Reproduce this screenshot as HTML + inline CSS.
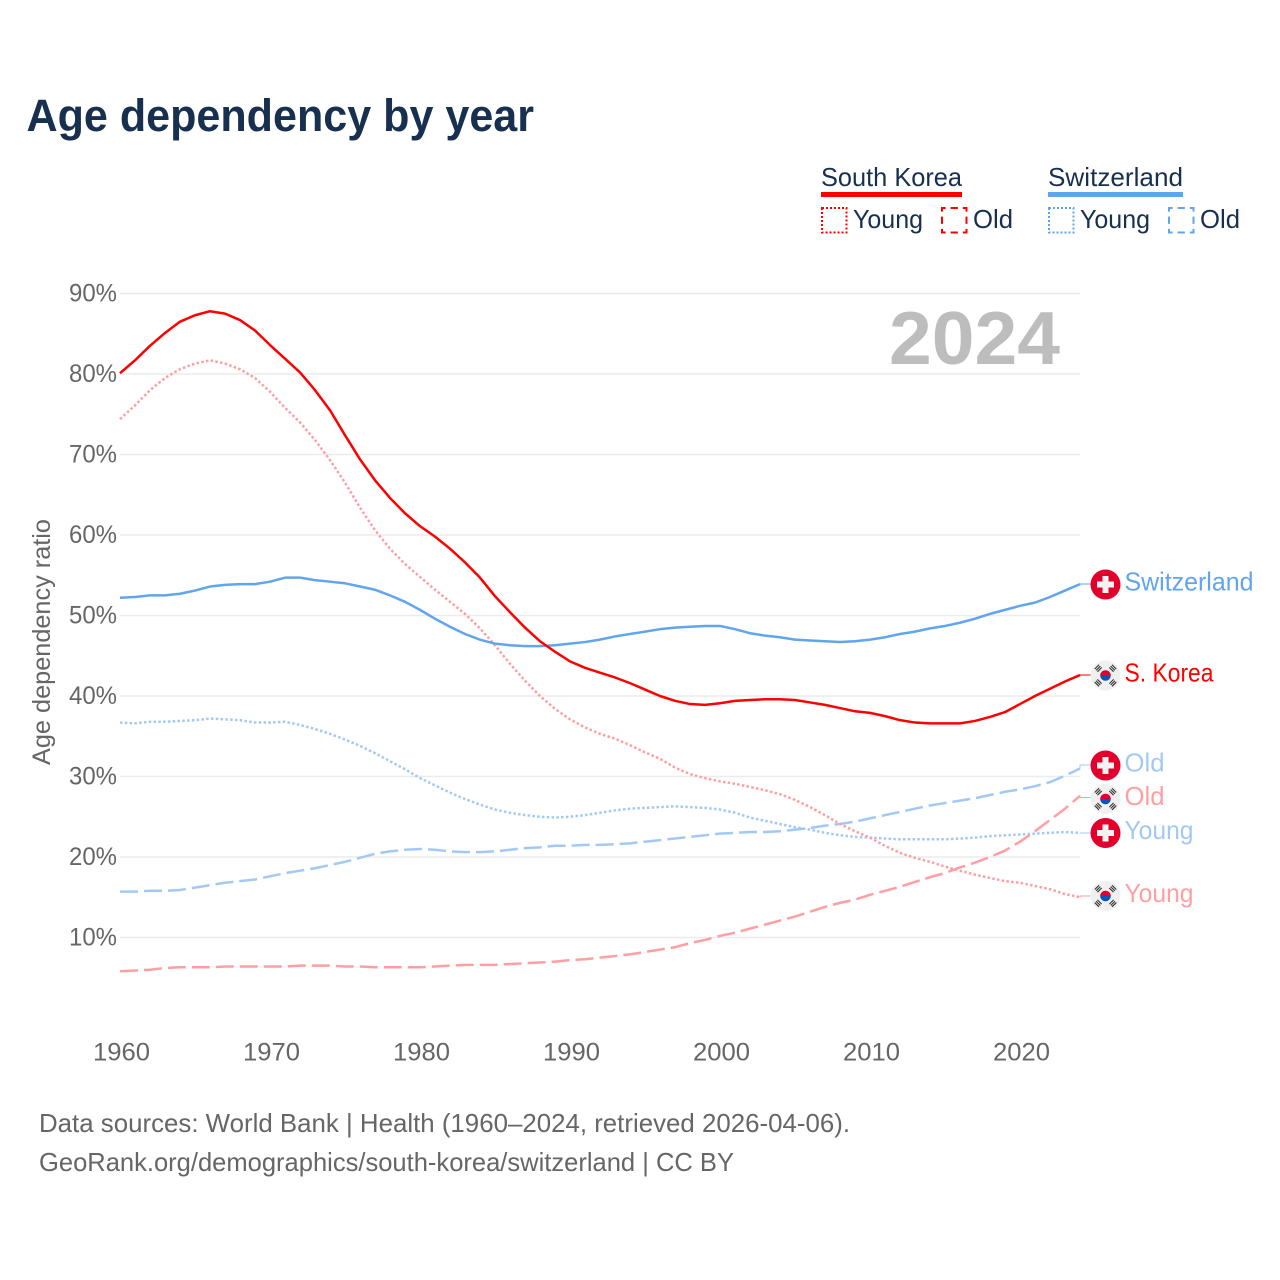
<!DOCTYPE html>
<html lang="en">
<head>
<meta charset="utf-8">
<title>Age dependency by year</title>
<style>
html,body{margin:0;padding:0;background:#fff;}
svg{display:block;font-family:"Liberation Sans",sans-serif;}
</style>
</head>
<body>
<svg id="chart" width="1280" height="1280" viewBox="0 0 1280 1280" xmlns="http://www.w3.org/2000/svg">
  <rect width="1280" height="1280" fill="#fff"/>
  <text x="26.500" y="131" font-size="45" font-weight="700" fill="#18304f" textLength="507.500" lengthAdjust="spacingAndGlyphs">Age dependency by year</text>

  <g>
    <text x="821" y="186" font-size="26" fill="#18304f" textLength="141" lengthAdjust="spacingAndGlyphs">South Korea</text>
    <rect x="821" y="192" width="141" height="5" fill="#ff0000"/>
    <rect x="822" y="208" width="24.500" height="24.500" fill="none" stroke="#ff0000" stroke-width="2" stroke-dasharray="2 2"/>
    <text x="853" y="228" font-size="26" fill="#18304f" textLength="70" lengthAdjust="spacingAndGlyphs">Young</text>
    <rect x="942" y="208" width="24.500" height="24.500" fill="none" stroke="#ff0000" stroke-width="2" stroke-dasharray="7.250 5" stroke-dashoffset="3.625"/>
    <text x="973" y="228" font-size="26" fill="#18304f" textLength="40" lengthAdjust="spacingAndGlyphs">Old</text>

    <text x="1048" y="186" font-size="26" fill="#18304f" textLength="135" lengthAdjust="spacingAndGlyphs">Switzerland</text>
    <rect x="1048" y="192" width="135" height="5" fill="#60a5ee"/>
    <rect x="1049" y="208" width="24.500" height="24.500" fill="none" stroke="#60a5ee" stroke-width="2" stroke-dasharray="2 2"/>
    <text x="1080" y="228" font-size="26" fill="#18304f" textLength="70" lengthAdjust="spacingAndGlyphs">Young</text>
    <rect x="1169" y="208" width="24.500" height="24.500" fill="none" stroke="#60a5ee" stroke-width="2" stroke-dasharray="7.250 5" stroke-dashoffset="3.625"/>
    <text x="1200" y="228" font-size="26" fill="#18304f" textLength="40" lengthAdjust="spacingAndGlyphs">Old</text>
  </g>

  <g id="grid"></g>
  <text x="1060" y="364" font-size="75" font-weight="700" fill="#bdbdbd" text-anchor="end" textLength="171" lengthAdjust="spacingAndGlyphs">2024</text>
  <g id="yticks"></g>
  <g id="xticks"></g>
  <text transform="translate(50,642) rotate(-90)" font-size="25" fill="#666" text-anchor="middle" textLength="246" lengthAdjust="spacingAndGlyphs">Age dependency ratio</text>
  <g id="series"></g>
  <g id="endlabels"></g>

  <text x="39" y="1132" font-size="26" fill="#666" textLength="811" lengthAdjust="spacingAndGlyphs">Data sources: World Bank | Health (1960–2024, retrieved 2026-04-06).</text>
  <text x="39" y="1171" font-size="26" fill="#666" textLength="695" lengthAdjust="spacingAndGlyphs">GeoRank.org/demographics/south-korea/switzerland | CC BY</text>
</svg>
<script>
const startYear = 1960;
const xTickYears = [1960, 1970, 1980, 1990, 2000, 2010, 2020];
const yTickValues = [10, 20, 30, 40, 50, 60, 70, 80, 90];

const koreaTotal = [80.1,81.7,83.5,85.1,86.5,87.3,87.8,87.5,86.7,85.4,83.6,81.9,80.2,78.0,75.5,72.4,69.4,66.8,64.6,62.7,61.1,59.8,58.3,56.6,54.7,52.4,50.4,48.5,46.8,45.5,44.3,43.5,42.9,42.3,41.6,40.8,40.0,39.4,39.0,38.9,39.1,39.4,39.5,39.6,39.6,39.5,39.2,38.9,38.5,38.1,37.9,37.5,37.0,36.7,36.6,36.6,36.6,36.9,37.4,38.0,39.0,40.0,40.9,41.8,42.6];
const koreaYoung = [74.4,76.1,78.0,79.5,80.6,81.3,81.7,81.3,80.6,79.5,77.8,75.8,74.0,71.8,69.3,66.5,63.4,60.6,58.3,56.4,54.8,53.2,51.7,50.2,48.4,46.3,44.0,41.9,40.0,38.4,37.1,36.1,35.3,34.7,33.9,33.0,32.2,31.1,30.3,29.8,29.4,29.1,28.7,28.3,27.8,27.1,26.2,25.2,24.1,23.2,22.4,21.4,20.5,19.9,19.4,18.8,18.3,17.8,17.4,17.0,16.8,16.4,16.0,15.4,15.0];
const koreaOld = [5.8,5.9,6.0,6.2,6.3,6.3,6.3,6.4,6.4,6.4,6.4,6.4,6.5,6.5,6.5,6.4,6.4,6.3,6.3,6.3,6.3,6.4,6.5,6.6,6.6,6.6,6.7,6.8,6.9,7.0,7.2,7.3,7.5,7.7,7.9,8.2,8.5,8.8,9.3,9.7,10.2,10.6,11.1,11.6,12.1,12.6,13.2,13.8,14.3,14.7,15.3,15.8,16.3,16.9,17.5,18.0,18.7,19.3,20.0,20.8,21.9,23.2,24.6,26.0,27.6];
const swissTotal = [52.2,52.3,52.5,52.5,52.7,53.1,53.6,53.8,53.9,53.9,54.2,54.7,54.7,54.4,54.2,54.0,53.6,53.2,52.5,51.7,50.7,49.6,48.6,47.7,47.0,46.5,46.3,46.2,46.2,46.3,46.5,46.7,47.0,47.4,47.7,48.0,48.3,48.5,48.6,48.7,48.7,48.3,47.8,47.5,47.3,47.0,46.9,46.8,46.7,46.8,47.0,47.3,47.7,48.0,48.4,48.7,49.1,49.6,50.2,50.7,51.2,51.6,52.3,53.1,53.9];
const swissYoung = [36.7,36.6,36.8,36.8,36.9,37.0,37.2,37.1,37.0,36.7,36.7,36.8,36.4,35.9,35.3,34.6,33.8,32.9,31.9,30.9,29.8,28.9,28.0,27.2,26.5,25.9,25.5,25.2,25.0,24.9,25.0,25.2,25.5,25.8,26.0,26.1,26.2,26.3,26.2,26.1,25.9,25.5,24.9,24.5,24.1,23.7,23.4,23.0,22.7,22.5,22.4,22.3,22.2,22.2,22.2,22.2,22.3,22.4,22.6,22.7,22.8,22.9,23.0,23.1,23.0];
const swissOld = [15.7,15.7,15.8,15.8,15.9,16.2,16.5,16.8,17.0,17.2,17.6,18.0,18.3,18.6,19.0,19.4,19.9,20.4,20.7,20.9,21.0,20.9,20.7,20.6,20.6,20.7,20.9,21.1,21.2,21.4,21.4,21.5,21.5,21.6,21.7,21.9,22.1,22.3,22.5,22.7,22.9,23.0,23.1,23.1,23.2,23.4,23.6,23.9,24.1,24.4,24.8,25.2,25.6,26.0,26.4,26.7,27.0,27.3,27.7,28.1,28.4,28.8,29.3,30.1,31.0];

const NS = 'http://www.w3.org/2000/svg';
function xScale(year) { return 120 + (year - 1960) * 15; }
function yScale(v) { return 1018 - v * 8.05; }
function make(tag, attrs, parent) {
  const el = document.createElementNS(NS, tag);
  for (const k in attrs) el.setAttribute(k, attrs[k]);
  parent.appendChild(el);
  return el;
}

const grid = document.getElementById('grid');
const yticks = document.getElementById('yticks');
yTickValues.forEach(function (v) {
  const line = make('line', {x1: 120, x2: 1080, y1: yScale(v), y2: yScale(v), stroke: '#ececec', 'stroke-width': 1.5}, grid);
  
  
  const t = make('text', {x: 117, y: yScale(v) + 8, 'font-size': 25, fill: '#666', 'text-anchor': 'end', textLength: 48, lengthAdjust: 'spacingAndGlyphs'}, yticks);
  t.textContent = v + '%';
  
  
});

const xticks = document.getElementById('xticks');
xTickYears.forEach(function (yr) {
  const t = make('text', {x: xScale(yr) + 1.5, y: 1060.5, 'font-size': 25, fill: '#666', 'text-anchor': 'middle', textLength: 57, lengthAdjust: 'spacingAndGlyphs'}, xticks);
  t.textContent = yr;
  
  
});

function pathFor(values) {
  return values.map(function (v, i) {
    return (i ? 'L' : 'M') + xScale(startYear + i).toFixed(1) + ' ' + yScale(v).toFixed(2);
  }).join(' ');
}

const seriesGroup = document.getElementById('series');
function drawLine(values, color, dash, width, name) {
  const p = make('path', {d: pathFor(values), fill: 'none', stroke: color, 'stroke-width': width, 'stroke-linejoin': 'round'}, seriesGroup);
  if (dash) p.setAttribute('stroke-dasharray', dash);
  
  
}
const RED = '#ff0000', BLUE = '#60a5ee', RED_L = '#ff9fa3', BLUE_L = '#a2c9f4';
const DOT = '2.5 2.3', DASH = '18 6';
drawLine(swissOld, BLUE_L, DASH, 2.5, 'line-switzerland-old');
drawLine(swissYoung, BLUE_L, DOT, 2.5, 'line-switzerland-young');
drawLine(koreaOld, RED_L, DASH, 2.5, 'line-south-korea-old');
drawLine(koreaYoung, RED_L, DOT, 2.5, 'line-south-korea-young');
drawLine(swissTotal, BLUE, null, 2.5, 'line-switzerland-total');
drawLine(koreaTotal, RED, null, 2.5, 'line-south-korea-total');

const labels = document.getElementById('endlabels');
function flagSwiss(cx, cy, parent) {
  const g = make('g', {}, parent);
  
  
  make('circle', {cx: cx, cy: cy, r: 15, fill: '#e0002b'}, g);
  make('rect', {x: cx - 3, y: cy - 8.5, width: 6, height: 17, fill: '#f2f2f2'}, g);
  make('rect', {x: cx - 8.5, y: cy - 3, width: 17, height: 6, fill: '#f2f2f2'}, g);
}
function flagKorea(cx, cy, parent) {
  const g = make('g', {}, parent);
  
  
  make('circle', {cx: cx, cy: cy, r: 15, fill: '#f0f0f0'}, g);
  make('path', {d: 'M' + (cx - 5.3) + ' ' + cy + 'a5.300 5.300 0 0 1 10.600 0z', fill: '#e0002b'}, g);
  make('path', {d: 'M' + (cx - 5.3) + ' ' + cy + 'a5.300 5.300 0 0 0 10.600 0z', fill: '#0a55b8'}, g);
  [[-1, -1, -45], [1, -1, 45], [-1, 1, 45], [1, 1, -45]].forEach(function (q) {
    const mx = cx + q[0] * 7.3, my = cy + q[1] * 7.3;
    const rot = 'rotate(' + q[2] + ' ' + mx + ' ' + my + ')';
    [-2.4, -0.5, 1.4].forEach(function (dy) {
      make('rect', {x: mx - 3, y: my + dy, width: 6, height: 1.1, fill: '#333', transform: rot}, g);
    });
  });
}
function endLabel(text, lastValue, lineColor, textColor, flagY, leaderY, flagFn, width, name) {
  const yv = yScale(lastValue);
  const leader = make('path', {d: 'M1080 ' + yv + ' L1080 ' + leaderY + ' L1092 ' + leaderY, fill: 'none', stroke: lineColor, 'stroke-width': 1}, labels);
  
  
  flagFn(1105.5, flagY, labels);
  const t = make('text', {x: 1124.5, y: flagY + 6, 'font-size': 26, fill: textColor, textLength: width, lengthAdjust: 'spacingAndGlyphs'}, labels);
  t.textContent = text;
  
  
}
endLabel('Switzerland', swissTotal[swissTotal.length - 1], BLUE, BLUE, 584.5, 584, flagSwiss, 129, 'label-switzerland');
endLabel('S. Korea', koreaTotal[koreaTotal.length - 1], RED, RED, 675.5, 675, flagKorea, 89, 'label-south-korea');
endLabel('Old', swissOld[swissOld.length - 1], BLUE_L, BLUE_L, 765.5, 765, flagSwiss, 40, 'label-switzerland-old');
endLabel('Old', koreaOld[koreaOld.length - 1], RED_L, RED_L, 799, 797.5, flagKorea, 40, 'label-south-korea-old');
endLabel('Young', swissYoung[swissYoung.length - 1], BLUE_L, BLUE_L, 833, 833, flagSwiss, 69, 'label-switzerland-young');
endLabel('Young', koreaYoung[koreaYoung.length - 1], RED_L, RED_L, 896, 896, flagKorea, 69, 'label-south-korea-young');
</script>
</body>
</html>
